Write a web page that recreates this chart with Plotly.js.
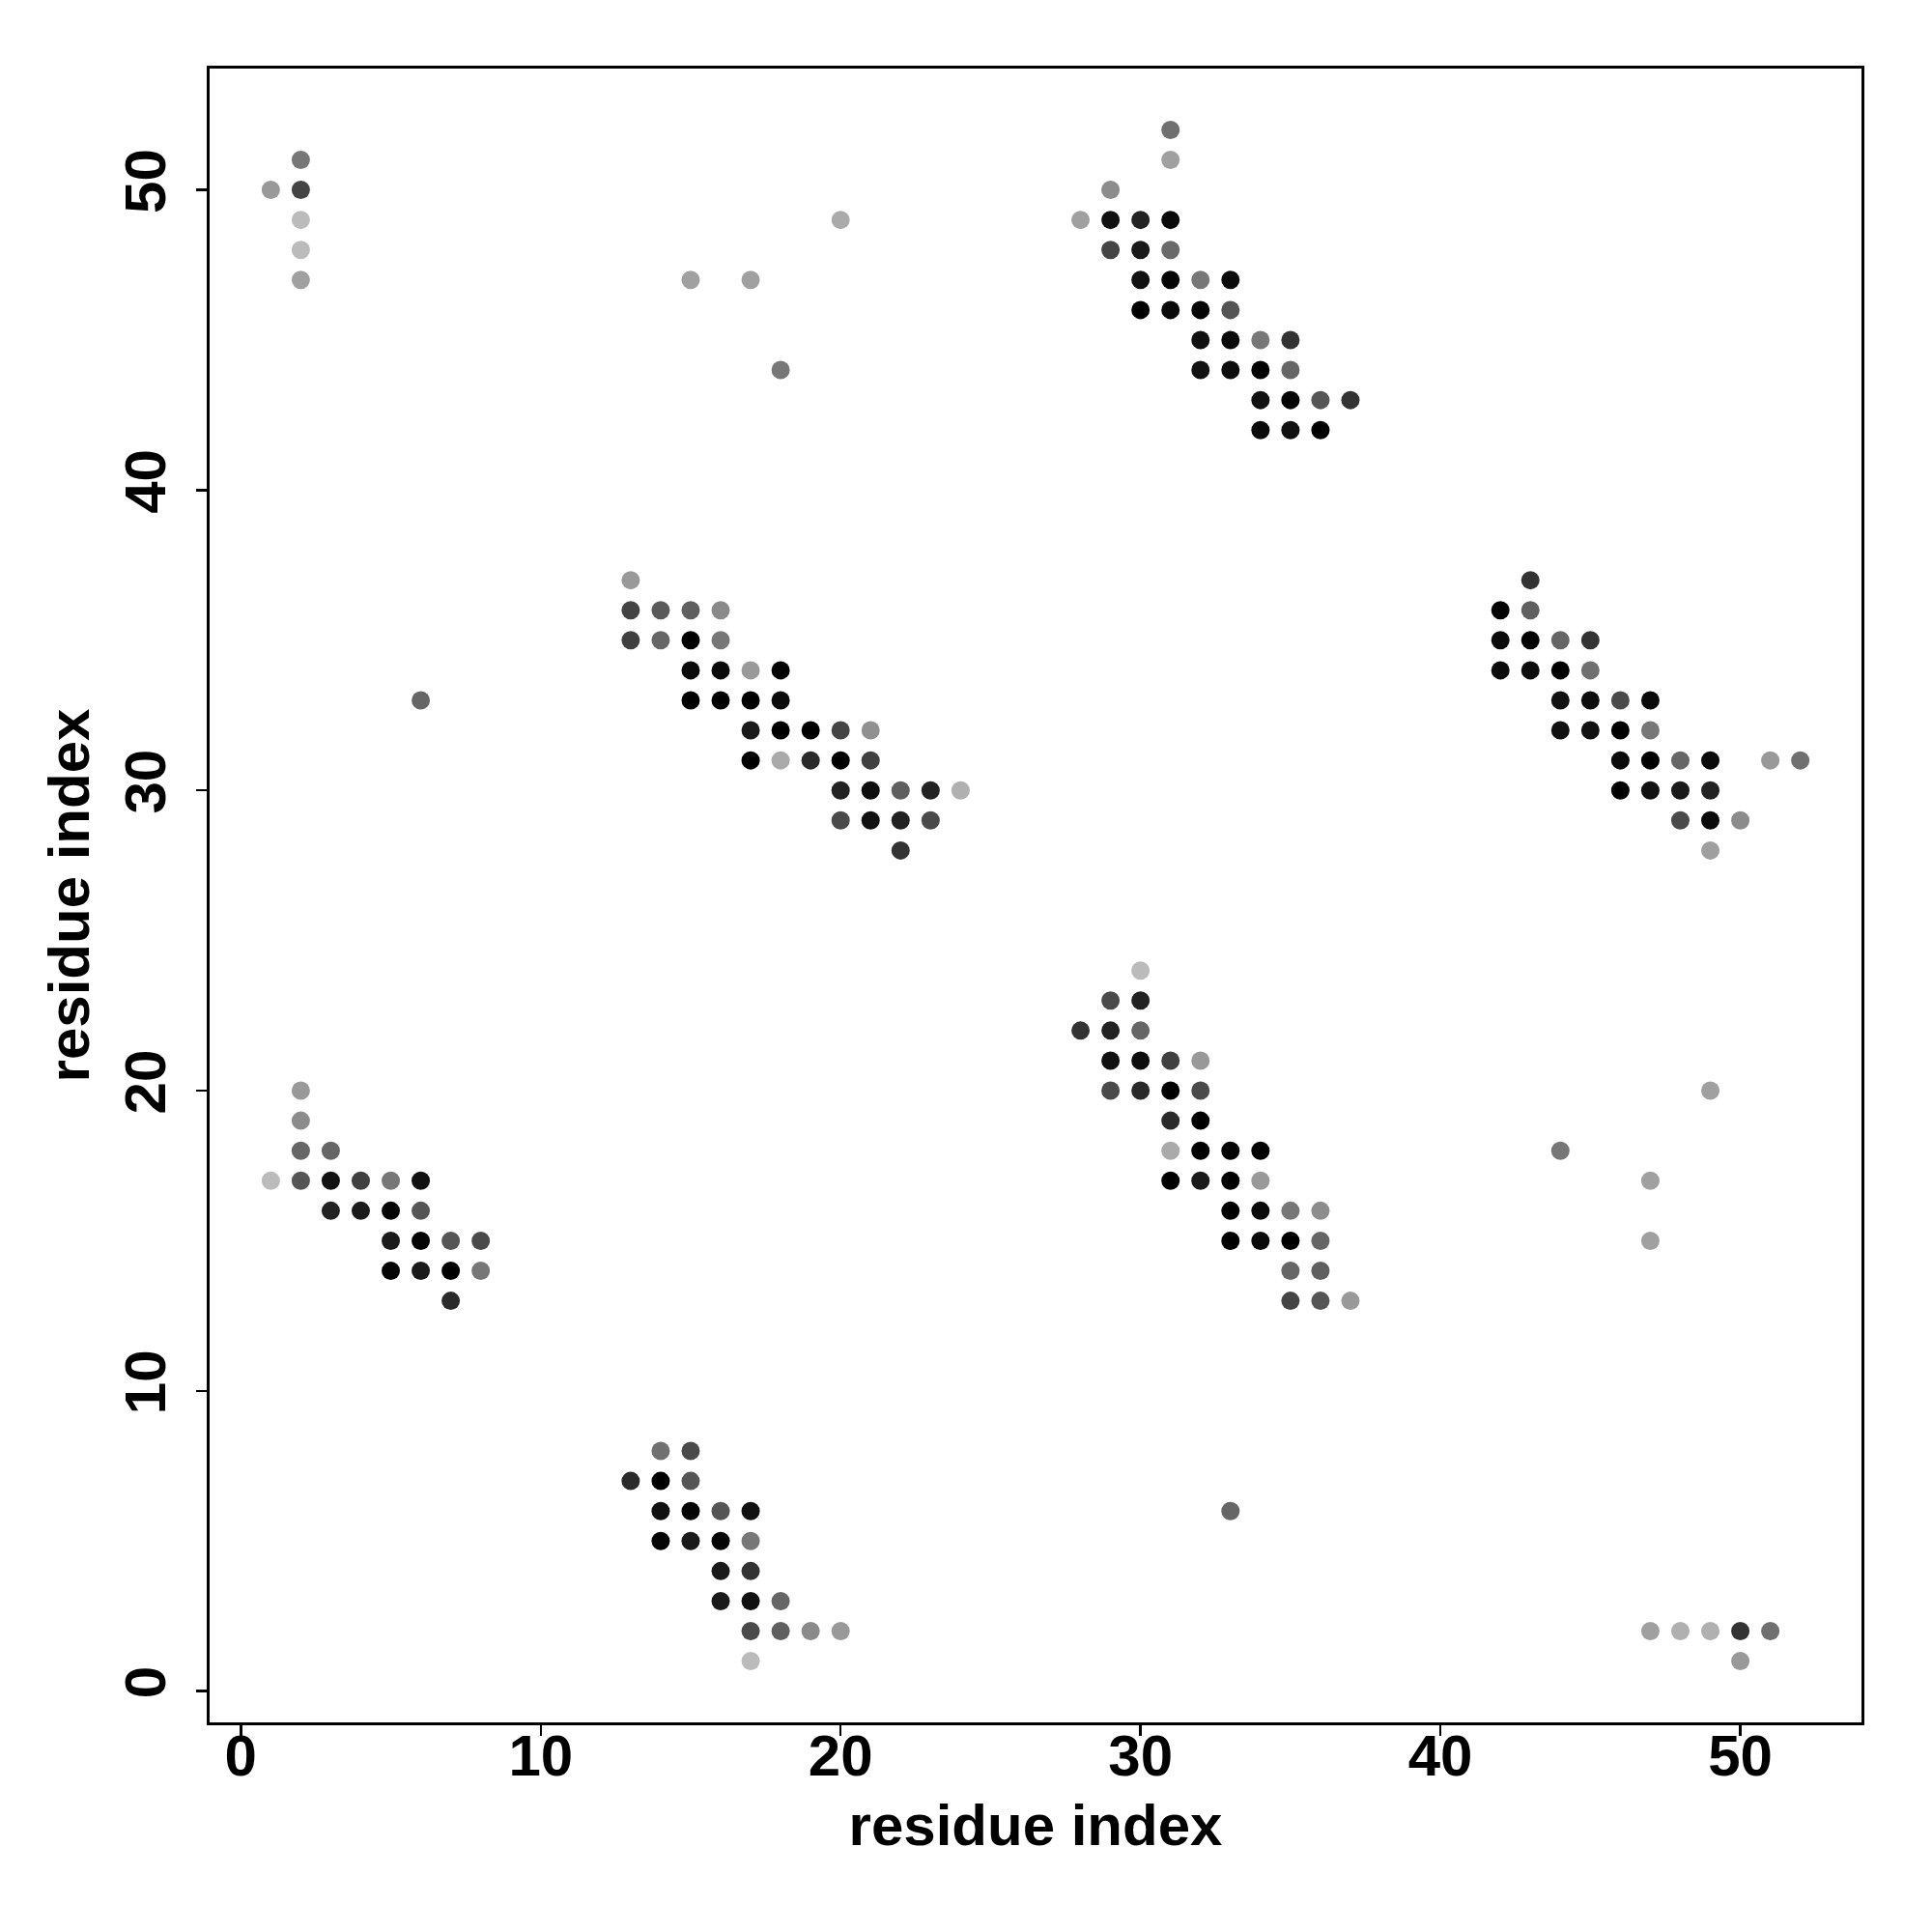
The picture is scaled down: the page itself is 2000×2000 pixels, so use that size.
<!DOCTYPE html>
<html>
<head>
<meta charset="utf-8">
<script src="https://cdn.plot.ly/plotly-3.0.1.min.js"></script>
<style>html,body{margin:0;padding:0;background:#fff;}</style>
</head>
<body>
<div id="chart" style="width:2000px;height:2000px;"></div>
<script>
// residue i index
const resI = [
  1,2,2,2,2,2,15,17,20,18,
  31,31,29,28,29,30,31,29,30,31,30,31,32,33,30,31,32,33,32,33,34,35,32,33,34,35,34,35,36,37,34,35,36,
  13,13,14,15,16,13,14,15,16,15,16,17,18,15,16,17,18,17,18,19,20,21,17,18,19,20,21,20,21,22,23,24,20,21,22,23,22,
  43,42,43,42,43,44,45,42,43,44,45,44,45,46,47,44,45,46,47,46,47,48,49,51,52,46,47,48,49,48,49,50,49,
  6,
  2,2,2,3,1,2,3,4,5,6,3,4,5,6,5,6,7,8,5,6,7,8,7,
  30,29,30,28,29,30,29,30,31,32,29,30,31,32,31,32,31,32,33,34,31,32,33,34,33,34,35,36,33,34,35,36,35,36,35,36,37,
  49,44,47,47,33,
  14,15,13,14,15,14,15,16,17,14,15,16,17,16,17,16,17,18,17,18,19,20,17,
  47,48,49,50,51,50
];
// residue j index
const resJ = [
  50,51,50,49,48,47,47,47,49,44,
  52,51,50,49,49,49,49,48,48,48,47,47,47,47,46,46,46,46,45,45,45,45,44,44,44,44,43,43,43,43,42,42,42,
  37,36,36,36,36,35,35,35,35,34,34,34,34,33,33,33,33,32,32,32,32,32,31,31,31,31,31,30,30,30,30,30,29,29,29,29,28,
  37,36,36,35,35,35,35,34,34,34,34,33,33,33,33,32,32,32,32,31,31,31,31,31,31,30,30,30,30,29,29,29,28,
  33,
  20,19,18,18,17,17,17,17,17,17,16,16,16,16,15,15,15,15,14,14,14,14,13,
  24,23,23,22,22,22,21,21,21,21,20,20,20,20,19,19,18,18,18,18,17,17,17,17,16,16,16,16,15,15,15,15,14,14,13,13,13,
  20,18,17,15,6,
  8,8,7,7,7,6,6,6,6,5,5,5,5,4,4,3,3,3,2,2,2,2,1,
  2,2,2,2,2,1
];
// grey level of each contact (0 = black, 255 = white)
const greyLevel = [
  153,119,68,187,187,160,160,160,170,119,
  112,160,140,160,17,34,10,68,26,106,17,5,119,10,0,10,5,85,17,10,119,51,17,13,0,102,17,0,85,51,10,17,0,
  153,68,90,95,138,64,102,0,119,10,10,153,0,0,0,0,10,26,0,0,68,144,0,170,42,0,64,34,13,95,34,176,74,17,34,74,51,
  51,0,95,10,0,102,51,10,13,0,111,17,13,74,10,17,17,0,119,10,0,102,10,153,112,0,17,26,34,74,10,140,159,
  102,
  153,140,102,102,187,85,17,64,119,17,34,26,5,85,26,5,85,74,5,26,0,119,42,
  187,74,34,51,34,102,17,13,64,153,74,42,0,74,42,0,170,0,5,0,0,26,0,153,0,10,119,140,0,10,0,102,102,95,68,85,153,
  160,119,160,160,102,
  112,74,42,0,85,17,5,85,17,5,26,5,119,26,51,26,17,102,74,95,138,153,187,
  160,176,176,51,112,153
];
const xTicks = [0, 10, 20, 30, 40, 50];
const yTicks = [0, 10, 20, 30, 40, 50];
const axisTitle = "residue index";

const font = {family: "Liberation Sans, Arial, Helvetica, sans-serif", size: 60, color: "#000", weight: 700};

const trace = {
  type: "scatter",
  mode: "markers",
  x: resI,
  y: resJ,
  marker: {
    size: 19,
    color: greyLevel,
    cmin: 0,
    cmax: 255,
    colorscale: [[0, "rgb(0,0,0)"], [1, "rgb(255,255,255)"]],
    showscale: false,
    line: {width: 0}
  },
  hoverinfo: "x+y"
};

const axisBase = {
  range: [-1.04, 54.04],
  tickmode: "array",
  showgrid: false,
  zeroline: false,
  showline: true,
  mirror: true,
  linecolor: "#000",
  linewidth: 3,
  ticks: "outside",
  ticklen: 11,
  tickwidth: 2.5,
  tickcolor: "#000",
  tickfont: font,
  automargin: false
};

const layout = {
  width: 2000,
  height: 2000,
  paper_bgcolor: "#fff",
  plot_bgcolor: "#fff",
  showlegend: false,
  margin: {l: 217, r: 73, t: 71, b: 217},
  font: font,
  xaxis: Object.assign({}, axisBase, {
    tickvals: xTicks,
    ticktext: xTicks.map(String),
    ticklabelstandoff: -31,
    title: {text: axisTitle, font: font, standoff: 18}
  }),
  yaxis: Object.assign({}, axisBase, {
    tickvals: yTicks,
    ticktext: yTicks.map(String),
    tickangle: -90,
    ticklabelstandoff: 8,
    title: {text: axisTitle, font: font, standoff: 6}
  })
};

Plotly.newPlot("chart", [trace], layout, {displayModeBar: false, staticPlot: true});
</script>
</body>
</html>
